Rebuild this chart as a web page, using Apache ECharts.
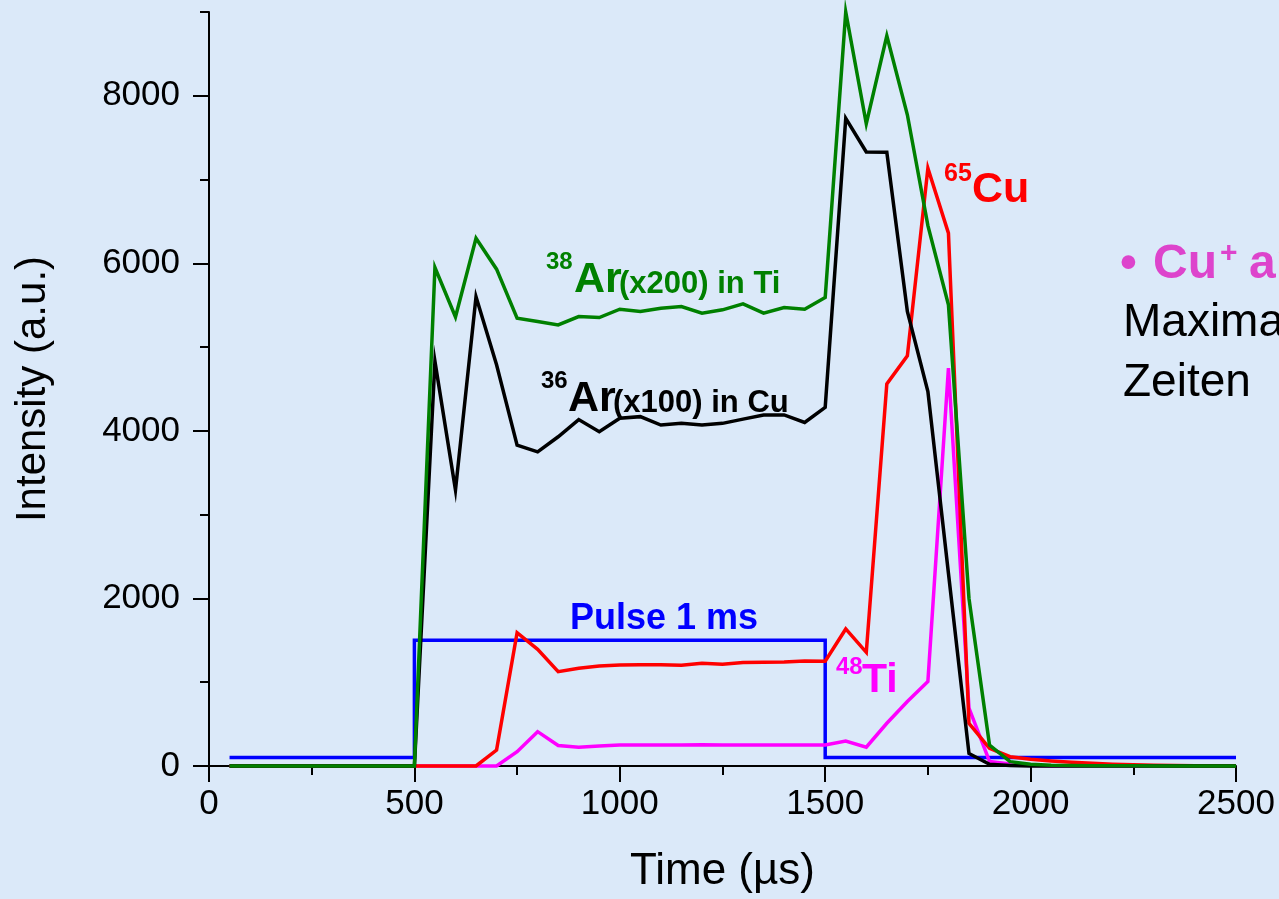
<!DOCTYPE html>
<html><head><meta charset="utf-8">
<script src="https://cdn.jsdelivr.net/npm/echarts@6/dist/echarts.min.js"></script>
<style>html,body{margin:0;padding:0;background:#dbe9f9}#c{width:1279px;height:899px}</style>
</head><body><div id="c"></div>
<script>
// Time axis (µs)
const times = [50,100,150,200,250,300,350,400,450,500,550,600,650,700,750,800,850,900,950,1000,
  1050,1100,1150,1200,1250,1300,1350,1400,1450,1500,1550,1600,1650,1700,1750,1800,1850,1900,1950,2000,
  2050,2100,2150,2200,2250,2300,2350,2400,2450,2500];
// 38Ar (x200) in Ti
const ar38 = [0,0,0,0,0,0,0,0,0,0,
  5950,5360,6300,5930,5345,5305,5265,5365,5353,5452,5425,5465,5485,5405,5445,5516,5405,5473,5452,5592,
  9000,7666,8716,7773,6450,5504,2000,250,52,20,
  10,6,4,3,2,1,1,0,0,0];
// 36Ar (x100) in Cu
const ar36 = [0,0,0,0,0,0,0,0,0,0,
  4830,3295,5600,4790,3830,3750,3930,4135,3990,4150,4170,4070,4090,4070,4090,4140,4190,4190,4100,4280,
  7730,7330,7325,5425,4470,2300,150,20,5,0,
  0,0,0,0,0,0,0,0,0,0];
// 65Cu
const cu65 = [0,0,0,0,0,0,0,0,0,0,0,0,0,
  190,1592,1393,1126,1166,1194,1206,1210,1210,1202,1226,1214,1234,1238,1242,1254,1250,
  1636,1357,4561,4896,7136,6360,509,211,111,80,
  60,45,32,22,14,9,6,4,2,1];
// 48Ti
const ti48 = [0,0,0,0,0,0,0,0,0,0,0,0,0,0,
  170,410,245,225,238,250,252,252,250,254,252,250,252,250,250,252,
  298,225,510,770,1010,4750,690,55,25,10,
  0,0,0,0,0,0,0,0,0,0];
// Pulse 1 ms
const pulseTimes = [50,500,500,1500,1500,2500];
const pulseValues = [100,100,1500,1500,100,100];
// Y ticks
const yMajorTicks = [0,2000,4000,6000,8000];
const yMinorTicks = [1000,3000,5000,7000,9000];

const zip = (xs, ys) => xs.map((x, i) => [x, ys[i]]);
const FONT = '"Liberation Sans", Arial, Helvetica, sans-serif';

const chart = echarts.init(document.getElementById('c'), null, {renderer: 'canvas'});

function line(name, data, color, z) {
  return {
    name, type: 'line', data, z, showSymbol: false, symbol: 'none',
    lineStyle: {color, width: 3.5, join: 'miter'}, itemStyle: {color},
    animation: false, clip: false
  };
}

function txt(text, x, y, size, color, weight) {
  return {
    type: 'text', x, y, z: 100,
    style: {
      text, fill: color, align: 'left', verticalAlign: 'middle',
      font: (weight || 'bold') + ' ' + size + 'px ' + FONT
    }
  };
}

const axisLineStyle = {color: '#000', width: 2};
const plain = v => String(v);

chart.setOption({
  backgroundColor: '#dbe9f9',
  animation: false,
  grid: {left: 209, right: 43, top: 12, bottom: 133, containLabel: false, outerBoundsMode: 'none'},
  xAxis: {
    type: 'value', min: 0, max: 2500, interval: 500,
    name: 'Time (µs)', nameLocation: 'middle', nameGap: 84,
    nameTextStyle: {fontFamily: FONT, fontSize: 44, color: '#000'},
    axisLine: {show: true, onZero: false, lineStyle: axisLineStyle},
    axisTick: {show: true, inside: false, length: 16, lineStyle: axisLineStyle},
    minorTick: {show: true, splitNumber: 2, length: 9, lineStyle: {color: '#000', width: 2}},
    axisLabel: {fontFamily: FONT, fontSize: 35, color: '#000', margin: 21, formatter: plain},
    splitLine: {show: false}, minorSplitLine: {show: false}
  },
  yAxis: [{
    type: 'value', min: 0, max: 9000, interval: 1000, position: 'left',
    name: 'Intensity (a.u.)', nameLocation: 'middle', nameGap: 155,
    nameTextStyle: {fontFamily: FONT, fontSize: 42, color: '#000'},
    axisLine: {show: true, onZero: false, lineStyle: axisLineStyle},
    axisTick: {show: true, inside: false, length: 16, lineStyle: axisLineStyle, customValues: yMajorTicks},
    axisLabel: {fontFamily: FONT, fontSize: 35, color: '#000', margin: 29, customValues: yMajorTicks, formatter: plain},
    splitLine: {show: false}
  }, {
    type: 'value', min: 0, max: 9000, interval: 1000, position: 'left',
    axisLine: {show: false},
    axisTick: {show: true, inside: false, length: 9, lineStyle: axisLineStyle, customValues: yMinorTicks},
    axisLabel: {show: false},
    splitLine: {show: false}
  }],
  series: [
    line('Pulse 1 ms', zip(pulseTimes, pulseValues), '#0000ff', 2),
    line('48Ti', zip(times, ti48), '#ff00ff', 3),
    line('65Cu', zip(times, cu65), '#ff0000', 4),
    line('36Ar(x100) in Cu', zip(times, ar36), '#000000', 5),
    line('38Ar(x200) in Ti', zip(times, ar38), '#008000', 6)
  ],
  graphic: [
    txt('38', 546, 262, 24, '#008000'),
    txt('Ar', 574, 280, 43, '#008000'),
    txt('(x200) in Ti', 619, 284, 31, '#008000'),
    txt('36', 541, 381, 24, '#000000'),
    txt('Ar', 568, 399, 43, '#000000'),
    txt('(x100) in Cu', 613, 403, 31, '#000000'),
    {type: 'text', x: 664, y: 619, z: 100, style: {text: 'Pulse 1 ms', fill: '#0000ff', align: 'center', verticalAlign: 'middle', font: 'bold 36px ' + FONT}},
    txt('65', 944, 174, 25, '#ff0000'),
    txt('Cu', 972, 190, 43, '#ff0000'),
    txt('48', 836, 667, 24, '#ff00ff'),
    txt('Ti', 862, 681, 41, '#ff00ff'),
    txt('•', 1120, 265, 48, '#dd44cc'),
    txt('Cu', 1153, 265, 48, '#dd44cc'),
    txt('+', 1220, 254, 30, '#dd44cc'),
    txt('ar', 1249, 265, 48, '#dd44cc'),
    txt('Maxima', 1123, 323, 46, '#000000', 'normal'),
    txt('Zeiten', 1123, 383, 46, '#000000', 'normal')
  ]
});
</script>
</body></html>
